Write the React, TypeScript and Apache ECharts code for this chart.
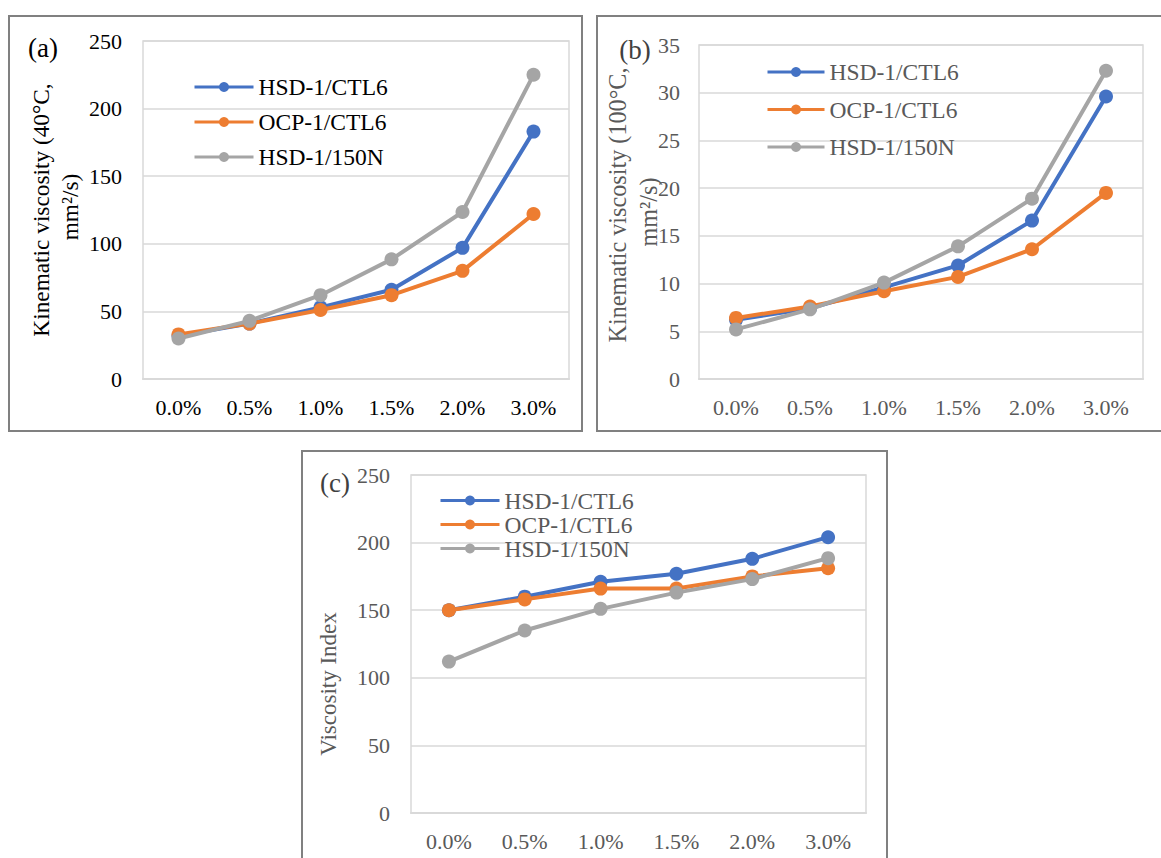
import React, { useEffect, useRef } from "react";
import * as echarts from "echarts";

const categories = ["0.0%", "0.5%", "1.0%", "1.5%", "2.0%", "3.0%"];
const seriesNames = ["HSD-1/CTL6", "OCP-1/CTL6", "HSD-1/150N"];
const colors = ["#4472C4", "#ED7D31", "#A5A5A5"];

// (a) Kinematic viscosity at 40°C
const aHsdCtl6 = [32, 41, 53, 66, 97, 183];
const aOcpCtl6 = [33, 41, 51, 62, 80, 122];
const aHsd150N = [30, 43, 62, 88.5, 123.5, 225];

// (b) Kinematic viscosity at 100°C
const bHsdCtl6 = [6.2, 7.4, 9.6, 11.9, 16.6, 29.6];
const bOcpCtl6 = [6.4, 7.6, 9.2, 10.7, 13.6, 19.5];
const bHsd150N = [5.2, 7.3, 10.1, 13.9, 18.9, 32.3];

// (c) Viscosity index
const cHsdCtl6 = [150, 160, 171, 177, 188, 204];
const cOcpCtl6 = [150, 158, 166, 166, 175, 181];
const cHsd150N = [112, 135, 151, 163, 173, 188.5];

const FONT = "'Liberation Serif', 'Times New Roman', serif";

export default function App() {
  const ref = useRef<HTMLDivElement>(null);

  useEffect(() => {
    document.body.style.margin = "0";
    if (!ref.current) return;
    const chart = echarts.init(ref.current, undefined, { renderer: "svg" });

    const panels = [
      { data: [aHsdCtl6, aOcpCtl6, aHsd150N], grid: { left: 143, top: 41, width: 426, height: 338 }, max: 250, interval: 50, textColor: "#000000", yMargin: 21, legend: { left: 193, top: 75, itemGap: 11, itemWidth: 59, lineHeight: 24 } },
      { data: [bHsdCtl6, bOcpCtl6, bHsd150N], grid: { left: 699, top: 45, width: 444, height: 334 }, max: 35, interval: 5, textColor: "#595959", yMargin: 19, legend: { left: 766, top: 60, itemGap: 13.5, itemWidth: 57, lineHeight: 24 } },
      { data: [cHsdCtl6, cOcpCtl6, cHsd150N], grid: { left: 411, top: 475, width: 455, height: 338 }, max: 250, interval: 50, textColor: "#595959", yMargin: 21, legend: { left: 439, top: 488.5, itemGap: 0, itemWidth: 59, lineHeight: 23 } },
    ];

    const grid: any[] = [];
    const xAxis: any[] = [];
    const yAxis: any[] = [];
    const series: any[] = [];
    const legend: any[] = [];

    panels.forEach((p, pi) => {
      grid.push({ ...p.grid, show: true, borderColor: "#D9D9D9", borderWidth: 1.5, backgroundColor: "transparent" });
      xAxis.push({
        type: "category",
        gridIndex: pi,
        data: categories,
        boundaryGap: true,
        axisTick: { show: false },
        axisLine: { show: true, lineStyle: { color: "#D9D9D9", width: 2 } },
        axisLabel: { color: p.textColor, fontSize: 22, fontFamily: FONT, margin: 17 },
      });
      yAxis.push({
        type: "value",
        gridIndex: pi,
        min: 0,
        max: p.max,
        interval: p.interval,
        axisLine: { show: false },
        axisTick: { show: false },
        axisLabel: { color: p.textColor, fontSize: 22, fontFamily: FONT, margin: p.yMargin },
        splitLine: { show: true, lineStyle: { color: "#D9D9D9", width: 1.5 } },
      });
      p.data.forEach((vals, si) => {
        series.push({
          id: "p" + pi + "s" + si,
          name: seriesNames[si],
          type: "line",
          xAxisIndex: pi,
          yAxisIndex: pi,
          data: vals,
          symbol: "circle",
          symbolSize: 14,
          showSymbol: true,
          color: colors[si],
          lineStyle: { color: colors[si], width: 4 },
          itemStyle: { color: colors[si] },
          emphasis: { disabled: true },
          silent: true,
          z: 2 + si,
        });
      });
      legend.push({
        orient: "vertical",
        left: p.legend.left,
        top: p.legend.top,
        itemGap: p.legend.itemGap,
        itemWidth: p.legend.itemWidth,
        itemHeight: 12.5,
        padding: 0,
        selectedMode: false,
        data: seriesNames,
        lineStyle: { width: 3 },
        textStyle: { color: p.textColor, fontSize: 23.5, fontFamily: FONT, lineHeight: p.legend.lineHeight, padding: [0, 0, 0, 0] },
      });
    });

    const boxStyle = { fill: "none", stroke: "#808080", lineWidth: 2 };
    const graphic: any[] = [
      { type: "rect", shape: { x: 9, y: 16, width: 573, height: 415 }, style: boxStyle, silent: true },
      { type: "rect", shape: { x: 597, y: 16, width: 575, height: 415 }, style: boxStyle, silent: true },
      { type: "rect", shape: { x: 302, y: 451, width: 585, height: 430 }, style: boxStyle, silent: true },
      { type: "text", x: 43, y: 48, style: { text: "(a)", fontSize: 27, fontFamily: FONT, fill: "#000000", textAlign: "center", textVerticalAlign: "middle" } },
      { type: "text", x: 635, y: 50, style: { text: "(b)", fontSize: 27, fontFamily: FONT, fill: "#404040", textAlign: "center", textVerticalAlign: "middle" } },
      { type: "text", x: 335, y: 483, style: { text: "(c)", fontSize: 27, fontFamily: FONT, fill: "#404040", textAlign: "center", textVerticalAlign: "middle" } },
      { type: "text", x: 41, y: 210, rotation: Math.PI / 2, style: { text: "Kinematic viscosity (40°C,", fontSize: 23.3, fontFamily: FONT, fill: "#000000", textAlign: "center", textVerticalAlign: "middle" } },
      { type: "text", x: 70, y: 207, rotation: Math.PI / 2, style: { text: "mm²/s)", fontSize: 23.3, fontFamily: FONT, fill: "#000000", textAlign: "center", textVerticalAlign: "middle" } },
      { type: "text", x: 617, y: 205, rotation: Math.PI / 2, style: { text: "Kinematic viscosity (100°C,", fontSize: 24.2, fontFamily: FONT, fill: "#595959", textAlign: "center", textVerticalAlign: "middle" } },
      { type: "text", x: 648, y: 212, rotation: Math.PI / 2, style: { text: "mm²/s)", fontSize: 24.2, fontFamily: FONT, fill: "#595959", textAlign: "center", textVerticalAlign: "middle" } },
      { type: "text", x: 328, y: 684, rotation: Math.PI / 2, style: { text: "Viscosity Index", fontSize: 23, fontFamily: FONT, fill: "#595959", textAlign: "center", textVerticalAlign: "middle" } },
    ];

    chart.setOption({
      animation: false,
      backgroundColor: "#ffffff",
      textStyle: { fontFamily: FONT },
      grid,
      xAxis,
      yAxis,
      series,
      legend,
      graphic,
    });

    return () => {
      chart.dispose();
    };
  }, []);

  return <div ref={ref} style={{ width: 1161, height: 858 }} />;
}
